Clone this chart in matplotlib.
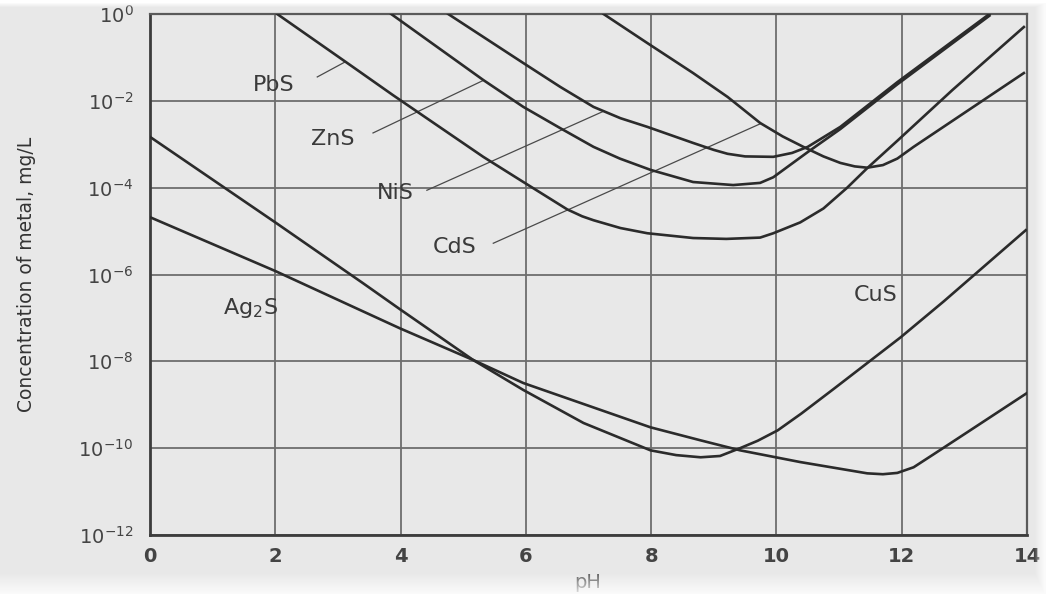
import numpy as np
import matplotlib
matplotlib.use("Agg")
import matplotlib.pyplot as plt

# Residual soluble metal vs pH for sulfide precipitation
# (log10 of concentration in mg/L)
pbs_ph = [2.03, 3.19, 3.88, 5.32, 5.96, 6.66, 6.90, 7.08, 7.51, 7.94, 8.67, 9.20, 9.74, 9.95,
          10.38, 10.75, 11.13, 11.45, 11.93, 12.81, 13.95]
pbs_log = [0.0, -1.17, -1.87, -3.29, -3.87, -4.50, -4.66, -4.75, -4.93, -5.05, -5.16, -5.18, -5.15,
           -5.05, -4.80, -4.48, -4.00, -3.55, -2.92, -1.75, -0.30]

zns_ph = [3.85, 5.32, 5.96, 6.55, 7.08, 7.50, 7.99, 8.67, 9.31, 9.74, 9.95, 10.50, 11.02, 11.93, 13.40]
zns_log = [0.0, -1.52, -2.14, -2.63, -3.06, -3.33, -3.59, -3.87, -3.94, -3.89, -3.76, -3.18, -2.65,
           -1.62, -0.04]

nis_ph = [4.76, 5.96, 6.55, 7.08, 7.51, 7.94, 8.67, 9.00, 9.22, 9.50, 9.95, 10.25, 10.50, 11.02,
          11.93, 13.40]
nis_log = [0.0, -1.13, -1.68, -2.14, -2.40, -2.60, -2.97, -3.13, -3.22, -3.28, -3.29, -3.20, -3.06,
           -2.60, -1.57, 0.0]

cds_ph = [7.24, 7.94, 8.67, 9.22, 9.42, 9.74, 10.10, 10.43, 10.75, 11.02, 11.25, 11.45, 11.70,
          11.93, 12.19, 13.07, 13.95]
cds_log = [0.0, -0.67, -1.36, -1.91, -2.14, -2.51, -2.82, -3.06, -3.28, -3.43, -3.51, -3.54, -3.48,
           -3.33, -3.06, -2.21, -1.36]

cus_ph = [0.0, 2.0, 3.40, 3.99, 5.16, 5.96, 6.92, 7.99, 8.40, 8.79, 9.10, 9.42, 9.70, 10.02, 10.40,
          10.91, 11.98, 12.67, 13.98]
cus_log = [-2.83, -4.80, -6.20, -6.80, -7.97, -8.66, -9.42, -10.05, -10.16, -10.21, -10.18, -10.00,
           -9.83, -9.59, -9.20, -8.64, -7.45, -6.62, -4.98]

ag2s_ph = [0.0, 2.0, 3.19, 3.99, 5.16, 5.96, 7.99, 8.79, 9.42, 10.38, 11.45, 11.70, 11.93, 12.19,
           12.51, 13.05, 14.0]
ag2s_log = [-4.68, -5.92, -6.71, -7.24, -7.97, -8.50, -9.52, -9.82, -10.05, -10.32, -10.58, -10.60,
            -10.57, -10.44, -10.14, -9.63, -8.73]

curves = [
    (pbs_ph, pbs_log),
    (zns_ph, zns_log),
    (nis_ph, nis_log),
    (cds_ph, cds_log),
    (cus_ph, cus_log),
    (ag2s_ph, ag2s_log),
]

# Curve labels: (text, text position (pH, log10 C), leader start, leader end)
labels = [
    ("PbS", (1.98, -1.63), (2.67, -1.45), (3.12, -1.10)),
    ("ZnS", (2.92, -2.88), (3.56, -2.74), (5.32, -1.53)),
    ("NiS", (3.91, -4.12), (4.42, -4.06), (7.24, -2.24)),
    ("CdS", (4.87, -5.37), (5.48, -5.28), (9.74, -2.53)),
    ("Ag$_2$S", (1.61, -6.77), None, None),
    ("CuS", (11.58, -6.47), None, None),
]

x_ticks = [0, 2, 4, 6, 8, 10, 12, 14]
y_exponents = [0, -2, -4, -6, -8, -10, -12]

BG = "#e8e8e8"
INK = "#2b2b2b"
GRID = "#6e6e6e"

W, H = 1046, 594
fig = plt.figure(figsize=(W / 100, H / 100), dpi=100, facecolor=BG)
ax = fig.add_axes([150 / W, 1 - 535 / H, (1027 - 150) / W, (535 - 14) / H])
ax.set_facecolor(BG)

for ph, lg in curves:
    ax.plot(ph, 10.0 ** np.array(lg), color=INK, lw=1.9, solid_joinstyle="round", zorder=3)

for text, pos, l0, l1 in labels:
    ax.text(pos[0], 10.0 ** pos[1], text, ha="center", va="center", fontsize=16,
            color="#3a3a3a", zorder=4)
    if l0 is not None:
        ax.plot([l0[0], l1[0]], [10.0 ** l0[1], 10.0 ** l1[1]], color="#4a4a4a", lw=0.9, zorder=2)

ax.set_yscale("log")
ax.set_xlim(0, 14)
ax.set_ylim(1e-12, 1e0)
ax.set_xticks(x_ticks)
ax.set_xticklabels([str(v) for v in x_ticks])
ax.set_yticks([10.0 ** e for e in y_exponents])
ax.set_yticklabels([r"$10^{%d}$" % e if e == 0 else r"$10^{-%d}$" % (-e) for e in y_exponents])
ax.yaxis.set_minor_locator(matplotlib.ticker.NullLocator())
ax.tick_params(axis="both", length=0, colors="#3a3a3a")
ax.tick_params(axis="x", pad=9, labelsize=14)
ax.tick_params(axis="y", pad=12, labelsize=14)
for lab in ax.get_xticklabels() + ax.get_yticklabels():
    lab.set_fontweight("bold")
    lab.set_color("#444444")

ax.grid(True, which="major", color=GRID, lw=1.3, zorder=1)
for side in ["left", "bottom"]:
    ax.spines[side].set_color("#3c3c3c")
    ax.spines[side].set_linewidth(2.0)
for side in ["right", "top"]:
    ax.spines[side].set_color("#5a5a5a")
    ax.spines[side].set_linewidth(1.6)

fig.text(27 / W, 1 - 274 / H, "Concentration of metal, mg/L", rotation=90,
         ha="center", va="center", fontsize=13.5, color="#333333")
fig.text(588 / W, 1 - 582 / H, "pH", ha="center", va="center", fontsize=14, color="#5a5a5a")

# paper edges fading to white
ov = fig.add_axes([0, 0, 1, 1], zorder=10)
ov.axis("off")
rows = np.arange(H)[:, None]
cols = np.arange(W)[None, :]
alpha = np.clip((rows - 572) / 26.0, 0, 1)
alpha = np.maximum(alpha, np.clip((7 - rows) / 5.0, 0, 1))
alpha = np.maximum(alpha, np.clip((cols - 1034) / 10.0, 0, 1) * 0.8)
img = np.ones((H, W, 4))
img[..., 3] = alpha
ov.imshow(img, extent=[0, 1, 0, 1], aspect="auto", origin="upper", interpolation="bilinear")
ov.set_xlim(0, 1)
ov.set_ylim(0, 1)

fig.savefig("out.png", dpi=100, facecolor=fig.get_facecolor())
